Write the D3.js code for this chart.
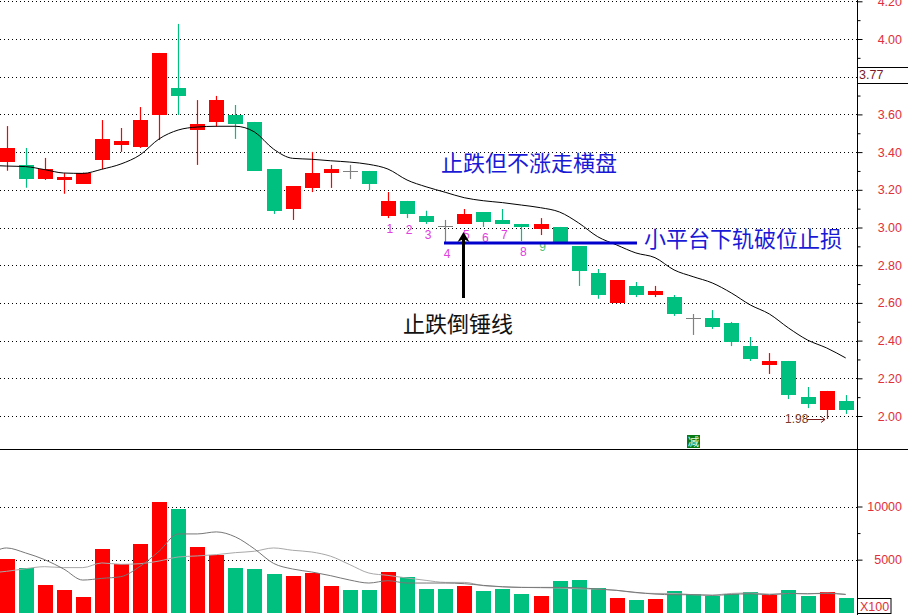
<!DOCTYPE HTML>
<html>
<head>
<meta charset="utf-8">
<title>止跌倒锤线</title>
<script src="https://cdn.jsdelivr.net/npm/d3@7/dist/d3.min.js"></script>
<style>
html,body{margin:0;padding:0;background:#fff;overflow:hidden;}
svg{display:block;}
text{font-family:"Liberation Sans",Arial,sans-serif;}
.cjk{font-family:"Noto Sans CJK SC",sans-serif;font-size:22px;}
</style>
</head>
<body>
<svg id="chart" width="908" height="615"></svg>
<script>
// candles
var opens = [3.349,3.332,3.259,3.252,3.232,3.358,3.438,3.429,3.597,3.740,3.517,3.560,3.597,3.560,3.310,3.098,3.210,3.289,3.300,3.300,3.061,3.141,3.061,3.008,3.019,3.082,3.040,3.019,2.992,3.003,2.902,2.759,2.599,2.690,2.642,2.631,2.520,2.520,2.493,2.371,2.271,2.292,2.101,2.032,2.080];
var closes = [3.422,3.259,3.310,3.268,3.291,3.470,3.459,3.570,3.926,3.698,3.549,3.676,3.549,3.300,3.088,3.220,3.289,3.310,3.300,3.231,3.141,3.072,3.029,3.008,3.072,3.029,3.019,3.003,3.019,2.918,2.769,2.642,2.721,2.642,2.663,2.541,2.520,2.472,2.393,2.302,2.292,2.111,2.064,2.133,2.032];
var highs = [3.538,3.422,3.369,3.288,3.291,3.570,3.528,3.639,3.926,4.080,3.676,3.698,3.650,3.560,3.310,3.220,3.401,3.332,3.332,3.300,3.188,3.141,3.089,3.040,3.098,3.082,3.098,3.019,3.050,3.003,2.902,2.780,2.721,2.711,2.690,2.642,2.541,2.562,2.499,2.419,2.334,2.292,2.154,2.133,2.111];
var lows = [3.301,3.211,3.252,3.179,3.232,3.310,3.401,3.422,3.464,3.597,3.332,3.535,3.470,3.300,3.072,3.040,3.188,3.210,3.257,3.199,3.050,3.050,3.019,2.918,3.019,3.003,3.019,2.928,2.960,2.918,2.690,2.622,2.599,2.631,2.631,2.531,2.430,2.462,2.371,2.292,2.223,2.090,2.042,1.984,2.011];
var volumes = [5095,4245,2640,2170,1510,6040,4620,6510,10380,9810,6230,5470,4245,4150,3680,3490,3710,2550,2170,2170,3870,3400,2260,2260,2550,2075,2260,1790,1600,3020,3110,2360,1415,1225,1320,2075,1790,1600,1790,1980,1700,2170,1600,1980,1415];
// moving averages start one bar earlier, off the left edge
var priceMa = [3.330,3.326,3.323,3.307,3.289,3.287,3.309,3.337,3.385,3.470,3.517,3.533,3.537,3.537,3.507,3.416,3.367,3.362,3.354,3.347,3.335,3.310,3.252,3.216,3.187,3.158,3.142,3.132,3.119,3.105,3.082,3.024,2.951,2.907,2.865,2.840,2.775,2.739,2.706,2.653,2.589,2.541,2.467,2.403,2.361,2.308];
var volMaShort = [5320,6100,5630,5000,4120,3080,3240,3400,4370,5790,7420,7420,7610,7140,6010,4650,4120,3840,3490,3080,2800,3020,2800,2800,2800,2740,2580,2450,2390,2390,2390,2360,2230,2110,1920,1760,1700,1700,1635,1730,1790,1700,1820,1790,1820,1730];
var volMaLong = [3740,3900,4150,4340,4250,4250,4690,4560,4620,4870,5250,5350,5470,5660,5790,6100,5880,5720,5320,4530,3740,3520,3270,3050,2860,2860,2550,2450,2390,2360,2330,2260,2230,2110,1890,1820,1820,1700,1670,1820,1860,1760,1820,1790,1860,1730];

var priceTicks = [4.2,4.0,3.8,3.6,3.4,3.2,3.0,2.8,2.6,2.4,2.2,2.0];
var priceMinor = [4.1,3.9,3.7,3.5,3.3,3.1,2.9,2.7,2.5,2.3,2.1];
var volTicks = [10000,5000];
var volMinor = [7500];
var countLabels = ["1","2","3","4","5","6","7","8","9"];

var RED = "#ff0000", GREEN = "#00c080", GRAY = "#808080", AXIS_RED = "#e0303a";
var axisX = 857.5;

var svg = d3.select("#chart");
var x = d3.scaleLinear().domain([0, 44]).range([6.5, 845.7]);
var y = d3.scaleLinear().domain([2, 4]).range([416, 39]);
var yVol = d3.scaleLinear().domain([0, 10000]).range([612.8, 506.5]);

var idx = d3.range(opens.length);

function candleColor(i){
    if (opens[i] === closes[i]) return GRAY;
    return closes[i] > opens[i] ? RED : GREEN;
}

// grid
function grid(values, scale){
    svg.append("g").selectAll("line").data(values).join("line")
        .attr("x1", 0).attr("x2", axisX)
        .attr("y1", function(d){ return Math.round(scale(d)) + 0.5; })
        .attr("y2", function(d){ return Math.round(scale(d)) + 0.5; })
        .attr("stroke", "#000").attr("stroke-dasharray", "1 3");
}
grid(priceTicks, y);
grid(volTicks, yVol);

// axes
function axis(scale, major, minor, fmt){
    var g = svg.append("g").attr("transform", "translate(" + axisX + ",0)");
    g.call(d3.axisRight(scale).tickValues(major).tickSize(5).tickFormat(fmt));
    g.selectAll(".domain").remove();
    g.selectAll("line").attr("stroke", "#000");
    g.selectAll("text").attr("x", 44.5).attr("text-anchor", "end")
        .attr("fill", AXIS_RED).style("font-size", "12.5px")
        .style("font-family", '"Liberation Sans",Arial,sans-serif');
    var m = svg.append("g").attr("transform", "translate(" + axisX + ",0)");
    m.call(d3.axisRight(scale).tickValues(minor).tickSize(3).tickFormat(""));
    m.selectAll(".domain").remove();
    m.selectAll("line").attr("stroke", "#000");
}
// 3.80 sits behind the last price box, so it has no label
axis(y, priceTicks, priceMinor, function(d){ return d === 3.8 ? "" : d3.format(".2f")(d); });
axis(yVol, volTicks, volMinor, d3.format("d"));

// frame lines
svg.append("line").attr("x1", axisX).attr("x2", axisX).attr("y1", 0).attr("y2", 615).attr("stroke", "#000");
svg.append("line").attr("x1", 0).attr("x2", 908).attr("y1", 449.5).attr("y2", 449.5).attr("stroke", "#000");

// last price box
svg.append("rect").attr("x", axisX).attr("y", 67.5).attr("width", 52).attr("height", 16)
    .attr("fill", "#fff").attr("stroke", "#000");
svg.append("text").attr("x", 859).attr("y", 79).attr("fill", "#7a1a2a").style("font-size", "12.5px").text("3.77");

// candles
svg.append("g").selectAll("line").data(idx).join("line")
    .attr("x1", function(i){ return Math.round(x(i)) + 0.5; })
    .attr("x2", function(i){ return Math.round(x(i)) + 0.5; })
    .attr("y1", function(i){ return y(highs[i]); })
    .attr("y2", function(i){ return y(lows[i]); })
    .attr("stroke", candleColor).attr("stroke-width", 1.2);
svg.append("g").selectAll("rect").data(idx).join("rect")
    .attr("x", function(i){ return Math.round(x(i)) - 7; })
    .attr("width", 15)
    .attr("y", function(i){ return y(Math.max(opens[i], closes[i])); })
    .attr("height", function(i){ return Math.max(1, Math.abs(y(opens[i]) - y(closes[i]))); })
    .attr("fill", candleColor)
    .attr("shape-rendering", "crispEdges");

// price moving average
var maLine = d3.line().x(function(d, i){ return x(i - 1); }).y(function(d){ return y(d); }).curve(d3.curveMonotoneX);
svg.append("path").datum(priceMa).attr("d", maLine).attr("fill", "none").attr("stroke", "#000").attr("stroke-width", 1);

// volume
svg.append("g").selectAll("rect").data(idx).join("rect")
    .attr("x", function(i){ return Math.round(x(i)) - 7; })
    .attr("width", 15)
    .attr("y", function(i){ return yVol(volumes[i]); })
    .attr("height", function(i){ return yVol(0) - yVol(volumes[i]); })
    .attr("fill", function(i){ return closes[i] > opens[i] ? RED : GREEN; })
    .attr("shape-rendering", "crispEdges");

var volLine = d3.line().x(function(d, i){ return x(i - 1); }).y(function(d){ return yVol(d); }).curve(d3.curveMonotoneX);
svg.append("path").datum(volMaLong).attr("d", volLine).attr("fill", "none").attr("stroke", "#a8a8a8").attr("stroke-width", 1);
svg.append("path").datum(volMaShort).attr("d", volLine).attr("fill", "none").attr("stroke", "#777").attr("stroke-width", 1);

// X100 box
svg.append("rect").attr("x", axisX).attr("y", 598.5).attr("width", 33.5).attr("height", 15)
    .attr("fill", "#fff").attr("stroke", "#000");
svg.append("text").attr("x", 860).attr("y", 611).attr("fill", AXIS_RED).style("font-size", "12.5px").text("X100");

// candle count labels, under bars 20 to 28
var countY = [229, 230, 235, 254, 235, 238, 235, 252, 247];
svg.append("g").selectAll("text").data(countLabels).join("text")
    .attr("x", function(d, i){ return x(i + 20) + 2; })
    .attr("y", function(d, i){ return countY[i] + 4; })
    .attr("text-anchor", "middle")
    .attr("fill", function(d){ return d === "9" ? "#50c070" : "#e040e0"; })
    .style("font-size", "12px")
    .text(function(d){ return d; });

// support line
svg.append("line").attr("x1", 444).attr("x2", 637).attr("y1", 243).attr("y2", 243)
    .attr("stroke", "#0000cc").attr("stroke-width", 3);

// arrow
svg.append("line").attr("x1", 463.5).attr("x2", 463.5).attr("y1", 298).attr("y2", 238)
    .attr("stroke", "#000").attr("stroke-width", 3);
svg.append("path").attr("d", "M463.5,232 L469.5,242 L463.5,239 L457.5,242 Z").attr("fill", "#000");

// annotations
svg.append("text").attr("class", "cjk").attr("x", 441).attr("y", 171).attr("fill", "#1a1ad6").text("止跌但不涨走横盘");
svg.append("text").attr("class", "cjk").attr("x", 644).attr("y", 247).attr("fill", "#1a1ad6").text("小平台下轨破位止损");
svg.append("text").attr("class", "cjk").attr("x", 403).attr("y", 332).attr("fill", "#111").text("止跌倒锤线");

// low marker
svg.append("text").attr("x", 785).attr("y", 423).attr("fill", "#7a3a2a").style("font-size", "12px").text("1.98");
svg.append("path").attr("d", "M807,419.5 H825 M821,416.5 L825,419.5 L821,422.5").attr("fill", "none").attr("stroke", "#7a1a1a");

// 减 badge
svg.append("rect").attr("x", 687).attr("y", 435).attr("width", 13).attr("height", 13).attr("fill", "#0a7a14");
svg.append("text").attr("x", 693.5).attr("y", 446).attr("text-anchor", "middle").attr("fill", "#dfe")
    .style("font-family", '"Noto Sans CJK SC",sans-serif').style("font-size", "11.5px").text("减");
</script>
</body>
</html>
